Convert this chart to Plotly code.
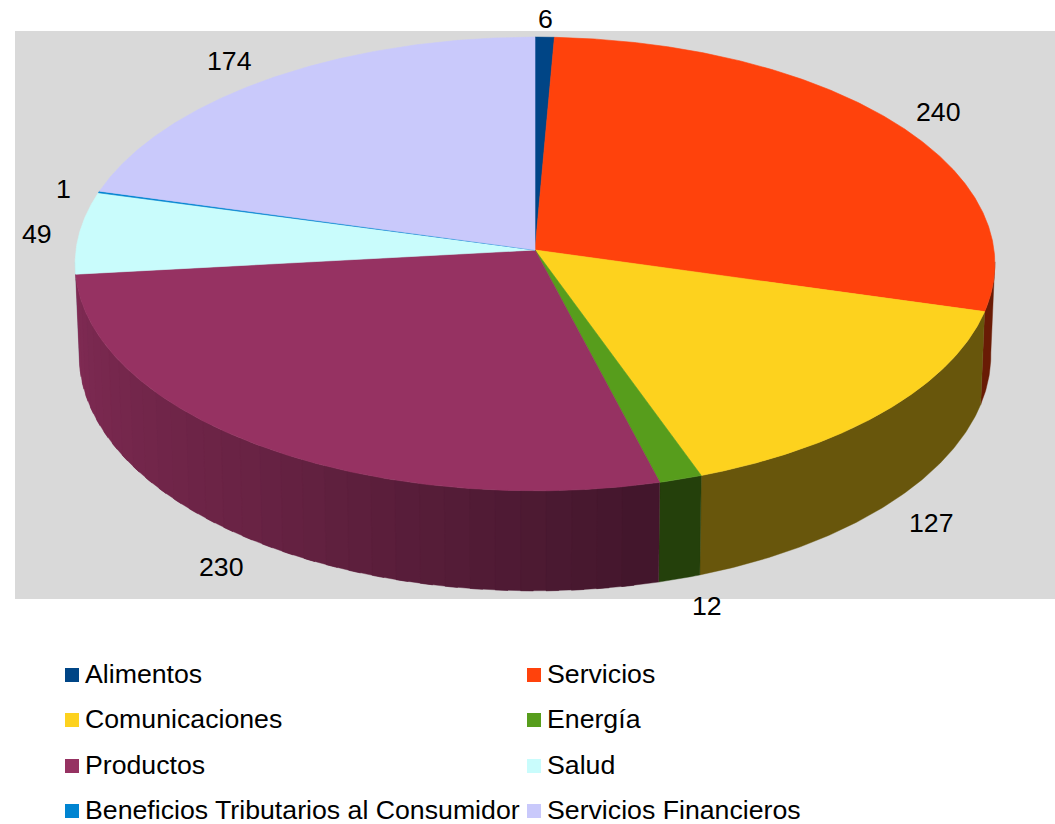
import numpy as np
import plotly.graph_objects as go

# Chart data
categories = ["Alimentos", "Servicios", "Comunicaciones", "Energía",
              "Productos", "Salud", "Beneficios Tributarios al Consumidor",
              "Servicios Financieros"]
values = [6, 240, 127, 12, 230, 49, 1, 174]
colors = ["#004586", "#ff420c", "#fdd21e", "#579d1c",
          "#963262", "#c9fcfc", "#0084d1", "#c9c9fb"]

# Offsets of each value label from the rim point at the middle of its slice
label_nudges = [(1, -18), (45, -10), (45, 113), (26, 127),
                (-39, 121), (-43, 1), (-35, -3), (-40, -18)]

# Legend layout: two columns, four rows
legend_x = [65, 527]
legend_y = [675, 720, 766, 811]

W, H = 1055, 824
FONT = "Liberation Sans, Arial, sans-serif"
FONT_SIZE = 26.7
TEXT = "#000000"

# Perspective parameters of the disc: top face and bottom rim
PERSP = 0.0616
TOP = dict(cx=535, cy=250, a=459, b=226)
BOTTOM = dict(cx=535, cy=340.5, a=455, b=235)

# Side wall brightness along the front-left part of the rim
BASE_SHADE = 0.41
RAMP_START = 165.0


def project(theta_deg, disc, r=1.0):
    """Map an angle, clockwise from twelve o'clock, onto a disc in perspective."""
    t = np.radians(theta_deg)
    u, v = r * np.sin(t), -r * np.cos(t)
    d = 1 - PERSP * v
    return disc["cx"] + disc["a"] * u / d, disc["cy"] + disc["b"] * v / d


def shade_factor(theta_deg):
    return float(np.interp(theta_deg, [RAMP_START, 215, 264], [BASE_SHADE + 0.03, 0.70, 0.86]))


def darken(hex_color, factor):
    rgb = [int(hex_color[i:i + 2], 16) for i in (1, 3, 5)]
    return "rgb({},{},{})".format(*[round(c * factor) for c in rgb])


edges = np.cumsum([0] + values) / sum(values) * 360.0
fig = go.Figure()


def add_wall_piece(t0, t1, col):
    """One filled piece of the side wall between two rim angles."""
    th = np.linspace(t0, t1, max(int(abs(t1 - t0) * 2), 2))
    xt, yt = project(th, TOP)
    xb, yb = project(th[::-1], BOTTOM)
    xs = np.concatenate([xt, xb, xt[:1]])
    ys = np.concatenate([yt, yb, yt[:1]])
    fig.add_trace(go.Scatter(
        x=xs, y=ys, mode="lines", fill="toself", fillcolor=col,
        line=dict(color=col, width=0.4), hoverinfo="skip", showlegend=False,
    ))


SIL_R, SIL_L = 93.0, 267.0

# Orange, yellow and green walls are flat, painted from the right silhouette inwards
for i in range(len(values)):
    lo, hi = max(edges[i], SIL_R), min(edges[i + 1], RAMP_START + 15)
    if hi > lo and edges[i + 1] <= edges[4]:
        add_wall_piece(lo, hi, darken(colors[i], BASE_SHADE))

# Walls on the left of the front are banded, painted from the left silhouette,
# each band running under the next one so no seam shows
prod_lo, prod_hi = edges[4], edges[5]
add_wall_piece(prod_hi, SIL_L, darken(colors[5], 0.86))
bands = np.arange(prod_lo, prod_hi, 3.0).tolist() + [prod_hi]
for a, b in reversed(list(zip(bands[:-1], bands[1:]))):
    add_wall_piece(a, min(b + 1.5, prod_hi), darken(colors[4], shade_factor((a + b) / 2)))

# Top face, one wedge per category
for i, (name, val, col) in enumerate(zip(categories, values, colors)):
    th = np.linspace(edges[i], edges[i + 1], max(int(val * 2), 6))
    xs, ys = project(th, TOP)
    xs = np.concatenate([[TOP["cx"]], xs, [TOP["cx"]]])
    ys = np.concatenate([[TOP["cy"]], ys, [TOP["cy"]]])
    fig.add_trace(go.Scatter(
        x=xs, y=ys, mode="lines", fill="toself", fillcolor=col,
        line=dict(color=col, width=0.6), name=name,
        hovertemplate=f"{name}: {val}<extra></extra>", showlegend=False,
    ))

annotations = []

# Value labels
for i, val in enumerate(values):
    mx, my = project((edges[i] + edges[i + 1]) / 2, TOP)
    dx, dy = label_nudges[i]
    annotations.append(dict(
        x=float(mx + dx), y=float(my + dy), text=str(val), showarrow=False,
        xanchor="center", yanchor="middle", xref="x", yref="y",
        font=dict(family=FONT, size=FONT_SIZE, color=TEXT),
    ))

# Legend: swatches and entries
sw_x, sw_y = [], []
for i, (name, col) in enumerate(zip(categories, colors)):
    cx, cy = legend_x[i % 2], legend_y[i // 2]
    sw_x.append(cx + 7)
    sw_y.append(cy)
    annotations.append(dict(
        x=cx + 18, y=cy - 1, text=name, showarrow=False,
        xanchor="left", yanchor="middle", xref="x", yref="y",
        font=dict(family=FONT, size=FONT_SIZE, color=TEXT),
    ))
fig.add_trace(go.Scatter(
    x=sw_x, y=sw_y, mode="markers", hoverinfo="skip", showlegend=False,
    marker=dict(symbol="square", size=14, color=colors, line=dict(width=0)),
))

fig.update_layout(
    width=W, height=H, margin=dict(l=0, r=0, t=0, b=0),
    paper_bgcolor="#ffffff", plot_bgcolor="#ffffff",
    xaxis=dict(range=[0, W], visible=False, fixedrange=True),
    yaxis=dict(range=[H, 0], visible=False, fixedrange=True),
    showlegend=False, annotations=annotations,
    shapes=[dict(type="rect", xref="x", yref="y", x0=15, x1=1055, y0=31, y1=599,
                 fillcolor="#d9d9d9", line=dict(width=0), layer="below")],
)

fig.write_html("out.html", config={"displayModeBar": False})
